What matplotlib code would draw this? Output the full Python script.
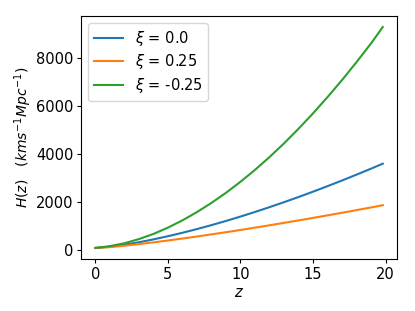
import matplotlib
matplotlib.use("Agg")
import matplotlib.pyplot as plt

z = [0, 1, 2, 3, 4, 5, 6, 7, 8, 9, 10, 11, 12, 13, 14, 15, 16, 17, 18, 19, 19.8]
H_xi_0 = [70, 121, 205, 308, 427, 560, 704, 859, 1024, 1198, 1382, 1574, 1775,
          1983, 2199, 2423, 2653, 2890, 3135, 3385, 3591]
H_xi_p025 = [70, 105, 163, 229, 303, 381, 463, 548, 637, 728, 822, 919, 1018,
             1119, 1221, 1326, 1433, 1540, 1652, 1763, 1858]
H_xi_m025 = [70, 145, 265, 440, 654, 918, 1222, 1568, 1952, 2374, 2835, 3332, 3868,
             4441, 5052, 5696, 6377, 7089, 7841, 8623, 9300]
labels = [r'$\xi$ = 0.0', r'$\xi$ = 0.25', r'$\xi$ = -0.25']

fig = plt.figure(figsize=(4.15, 3.11), dpi=100)
ax = fig.add_axes([0.195, 0.1672, 0.762, 0.7814])
ax.plot(z, H_xi_0, color='#1f77b4', lw=1.5, label=labels[0])
ax.plot(z, H_xi_p025, color='#ff7f0e', lw=1.5, label=labels[1])
ax.plot(z, H_xi_m025, color='#2ca02c', lw=1.5, label=labels[2])
ax.set_xticks([0, 5, 10, 15, 20])
ax.set_yticks([0, 2000, 4000, 6000, 8000])
ax.tick_params(labelsize=10.5, length=3, pad=2.5)
ax.set_xlabel(r'$z$', fontsize=10.5, labelpad=2.5)
ax.set_ylabel(r'$H(z)$   $(kms^{-1}Mpc^{-1})$', fontsize=10, labelpad=1.5)
ax.legend(loc='upper left', fontsize=10.5, labelspacing=0.3)
fig.savefig('out.png', dpi=100)
